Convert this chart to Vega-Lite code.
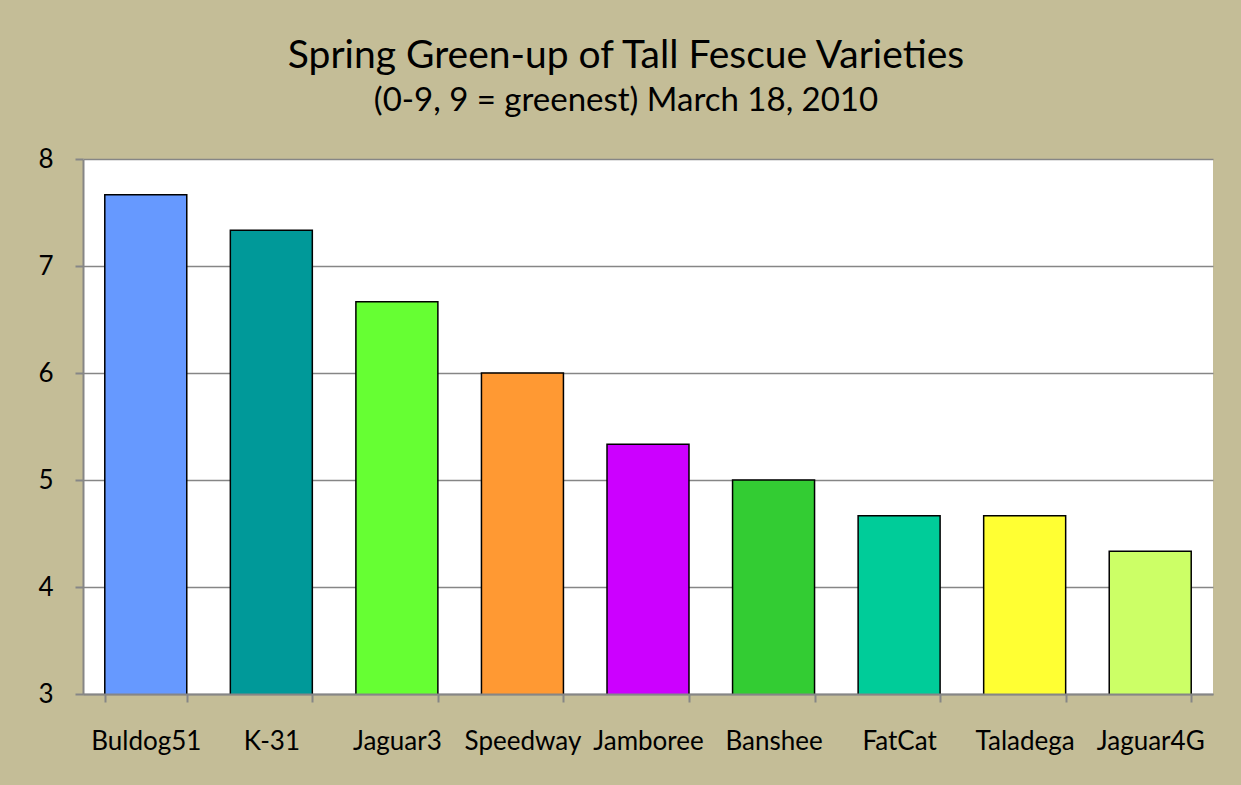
{
  "$schema": "https://vega.github.io/schema/vega-lite/v6.json",
  "width": 1130,
  "height": 535,
  "autosize": {"type": "none"},
  "padding": {"left": 83, "top": 159, "right": 28, "bottom": 91},
  "background": "#C4BD97",
  "title": {
    "text": "Spring Green-up of Tall Fescue Varieties",
    "subtitle": "(0-9, 9 = greenest) March 18, 2010",
    "anchor": "middle",
    "dx": -22,
    "offset": 28,
    "font": "Lato",
    "fontSize": 39,
    "fontWeight": "normal",
    "color": "#000000",
    "subtitleFont": "Lato",
    "subtitleFontSize": 33,
    "subtitleColor": "#000000",
    "subtitlePadding": 9
  },
  "data": {
    "values": [
      {"variety": "Buldog51", "rating": 7.667},
      {"variety": "K-31", "rating": 7.333},
      {"variety": "Jaguar3", "rating": 6.667},
      {"variety": "Speedway", "rating": 6.0},
      {"variety": "Jamboree", "rating": 5.333},
      {"variety": "Banshee", "rating": 5.0},
      {"variety": "FatCat", "rating": 4.667},
      {"variety": "Taladega", "rating": 4.667},
      {"variety": "Jaguar4G", "rating": 4.333}
    ]
  },
  "mark": {"type": "bar", "stroke": "#000000", "strokeWidth": 1.5, "clip": true},
  "encoding": {
    "x": {
      "field": "variety",
      "type": "nominal",
      "sort": null,
      "scale": {"paddingInner": 0.347, "paddingOuter": 0.1735},
      "axis": {
        "title": null,
        "labelAngle": 0,
        "labelFont": "Lato",
        "labelFontSize": 26,
        "labelColor": "#000000",
        "labelPadding": 26,
        "tickBand": "extent",
        "tickSize": 8,
        "tickColor": "#868686",
        "tickWidth": 2,
        "domainColor": "#868686",
        "domainWidth": 2,
        "grid": false,
        "zindex": 1
      }
    },
    "y": {
      "field": "rating",
      "type": "quantitative",
      "scale": {"domain": [3, 8], "zero": false, "nice": false},
      "axis": {
        "title": null,
        "values": [3, 4, 5, 6, 7, 8],
        "labelFont": "Lato",
        "labelFontSize": 26,
        "labelColor": "#000000",
        "labelPadding": 22,
        "tickSize": 8,
        "tickColor": "#868686",
        "tickWidth": 2,
        "domainColor": "#868686",
        "domainWidth": 2,
        "grid": true,
        "gridColor": "#868686",
        "gridWidth": 1.5
      }
    },
    "color": {
      "field": "variety",
      "type": "nominal",
      "sort": null,
      "legend": null,
      "scale": {
        "domain": ["Buldog51", "K-31", "Jaguar3", "Speedway", "Jamboree", "Banshee", "FatCat", "Taladega", "Jaguar4G"],
        "range": ["#6699FF", "#009999", "#66FF33", "#FF9933", "#CC00FF", "#33CC33", "#00CC99", "#FFFF33", "#CCFF66"]
      }
    }
  },
  "config": {
    "view": {"fill": "#FFFFFF", "stroke": null},
    "bar": {"opacity": 1}
  }
}
